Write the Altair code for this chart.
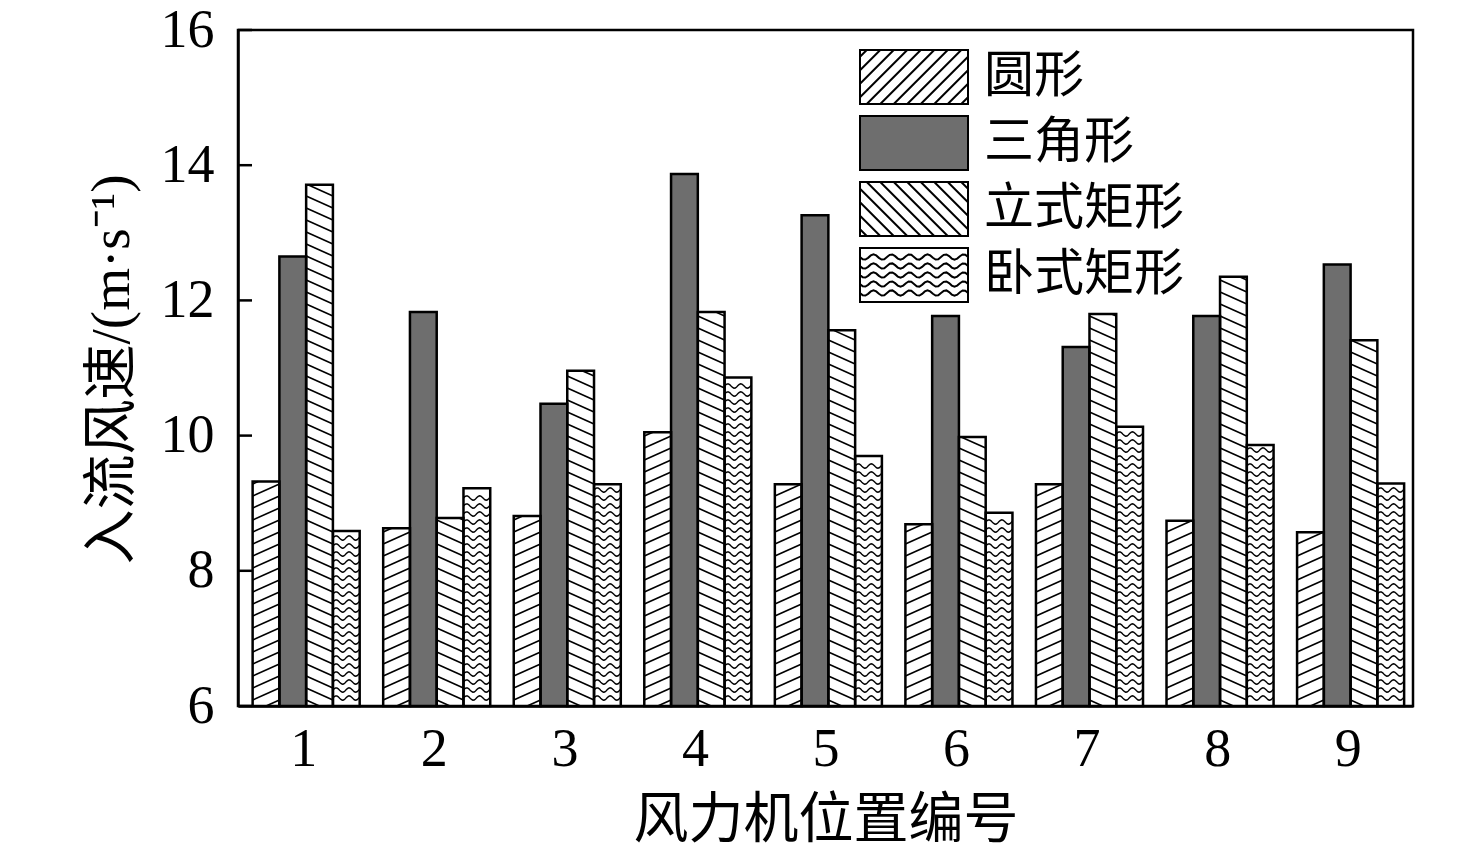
import altair as alt
import pandas as pd
import math

# ---------------- data ----------------
groups = [1, 2, 3, 4, 5, 6, 7, 8, 9]
series = ["圆形", "三角形", "立式矩形", "卧式矩形"]
circle = [9.32, 8.63, 8.81, 10.05, 9.28, 8.69, 9.28, 8.74, 8.57]
triangle = [12.65, 11.83, 10.47, 13.87, 13.26, 11.77, 11.31, 11.77, 12.53]
vertical = [13.71, 8.78, 10.96, 11.83, 11.56, 9.98, 11.80, 12.35, 11.41]
horizontal = [8.59, 9.22, 9.28, 10.86, 9.70, 8.86, 10.13, 9.86, 9.29]
y_ticks = [6, 8, 10, 12, 14, 16]
fills = ["white", "#6e6e6e", "white", "white"]

rows = []
for k, (name, vals) in enumerate(zip(series, [circle, triangle, vertical, horizontal])):
    for g, v in zip(groups, vals):
        rows.append({"group": g, "series": name, "k": k, "value": v})
df = pd.DataFrame(rows)

# ---------------- layout / style ----------------
W, H = 1175, 676
PX = W / 9.0
PY = H / 10.0
BW = 0.205
SHIFT = 0.022
WPX = BW * PX

FONT_NUM = "Liberation Serif"
FONT_CJK = "Liberation Serif, Noto Sans CJK SC"

xscale = alt.Scale(domain=[0.5, 9.5], nice=False, zero=False)
yscale = alt.Scale(domain=[6, 16], nice=False, zero=False)
fill_scale = alt.Scale(domain=series, range=fills)

XL = f"datum.group - {2*BW} + {SHIFT} + {BW} * datum.k"
HPX = f"(datum.value - 6) * {PY}"

x_axis = alt.Axis(values=groups, format="d", title="风力机位置编号",
                  labelFont=FONT_NUM, labelFontSize=54, labelPadding=16,
                  labelFlush=False, labelColor="black", ticks=False, tickSize=0,
                  domainColor="black", domainWidth=2.5, grid=False,
                  titleFont=FONT_CJK, titleFontSize=55, titleFontWeight="normal",
                  titleColor="black", titleBaseline="alphabetic", titleY=130)
y_axis = alt.Axis(values=y_ticks, format="d", title="入流风速/(m·s⁻¹)",
                  labelFont=FONT_NUM, labelFontSize=54, labelPadding=24,
                  labelColor="black", ticks=False, tickSize=0,
                  domainColor="black", domainWidth=2.5, grid=False,
                  titleFont=FONT_CJK, titleFontSize=55, titleFontWeight="normal",
                  titleColor="black", titleAngle=270, titleBaseline="alphabetic",
                  titleAlign="center", titleX=-110, titleY=339)


def X(field):
    return alt.X(field, scale=xscale, axis=x_axis)


def Y(field):
    return alt.Y(field, scale=yscale, axis=y_axis)


base = alt.Chart(df)

bars = base.transform_calculate(
    x0=XL
).transform_calculate(
    x1=f"datum.x0 + {BW}"
).mark_rect(strokeWidth=0).encode(
    x=X("x0:Q"),
    x2="x1:Q",
    y=Y("value:Q"),
    y2=alt.datum(6),
    fill=alt.condition(f"datum.series == '{series[1]}'", alt.value(fills[1]), alt.value(fills[0])),
)

outline = base.transform_calculate(
    x0=XL
).transform_calculate(
    x1=f"datum.x0 + {BW}"
).mark_rect(fillOpacity=0, stroke="black", strokeWidth=2.5).encode(
    x=X("x0:Q"),
    x2="x1:Q",
    y=Y("value:Q"),
    y2=alt.datum(6),
)

# diagonal hatch ("/" for 圆形, "\" for 立式矩形)
M = 0.45
S = 12.0
MW = M * WPX


def diag_layer(name, rising):
    ch = base.transform_filter(f"datum.series == '{name}'").transform_calculate(
        xl=XL
    ).transform_calculate(
        hpx=HPX
    ).transform_calculate(
        idx=f"sequence(0, ceil((datum.hpx + {MW}) / {S}))"
    ).transform_flatten(["idx"])
    if rising:
        ch = ch.transform_calculate(
            c=f"-{MW} + (datum.idx + 0.5) * {S}"
        ).transform_calculate(
            ua=f"max(0, -datum.c / {M})"
        ).transform_calculate(
            ub=f"min({WPX}, (datum.hpx - datum.c) / {M})"
        ).transform_calculate(
            va=f"{M} * datum.ua + datum.c"
        ).transform_calculate(
            vb=f"{M} * datum.ub + datum.c"
        )
    else:
        ch = ch.transform_calculate(
            c=f"(datum.idx + 0.5) * {S}"
        ).transform_calculate(
            ua=f"max(0, (datum.c - datum.hpx) / {M})"
        ).transform_calculate(
            ub=f"min({WPX}, datum.c / {M})"
        ).transform_calculate(
            va=f"datum.c - {M} * datum.ua"
        ).transform_calculate(
            vb=f"datum.c - {M} * datum.ub"
        )
    ch = ch.transform_filter("datum.ub > datum.ua").transform_calculate(
        hx=f"datum.xl + datum.ua / {PX}"
    ).transform_calculate(
        hx2=f"datum.xl + datum.ub / {PX}"
    ).transform_calculate(
        hy=f"6 + datum.va / {PY}"
    ).transform_calculate(
        hy2=f"6 + datum.vb / {PY}"
    )
    return ch.mark_rule(color="black", strokeWidth=1.6).encode(
        x=X("hx:Q"),
        x2="hx2:Q",
        y=Y("hy:Q"),
        y2="hy2:Q",
    )


hatch_circle = diag_layer(series[0], True)
hatch_vert = diag_layer(series[2], False)

# wavy hatch for 卧式矩形
S2 = 8.0
A = 2.2
P = 13.0
NP = 20
wavy = base.transform_filter(f"datum.series == '{series[3]}'").transform_calculate(
    xl=XL
).transform_calculate(
    hpx=HPX
).transform_calculate(
    j=f"sequence(1, floor((datum.hpx - 2 - {A}) / {S2}) + 1)"
).transform_flatten(["j"]).transform_calculate(
    p=f"sequence(0, {NP + 1})"
).transform_flatten(["p"]).transform_calculate(
    u=f"datum.p * {WPX / NP}"
).transform_calculate(
    v=f"datum.j * {S2} + {A} * sin(2 * PI * datum.u / {P})"
).transform_calculate(
    wx=f"datum.xl + datum.u / {PX}"
).transform_calculate(
    wy=f"6 + datum.v / {PY}"
).transform_calculate(
    rid="datum.group * 1000 + datum.j"
).mark_line(color="black", strokeWidth=1.4).encode(
    x=X("wx:Q"),
    y=Y("wy:Q"),
    detail="rid:N",
    order="p:Q",
)

# inward y ticks
tick_df = pd.DataFrame({"t": y_ticks})
yticks = alt.Chart(tick_df).mark_rule(color="black", strokeWidth=2.5).encode(
    y=Y("t:Q"),
    x=alt.value(0),
    x2=alt.value(14),
)


# ---------------- legend symbols (custom paths) ----------------
def fmt(v):
    return f"{v:.3f}"


RECT = "M-2,-1L2,-1L2,1L-2,1Z"


def legend_diag(rising):
    parts = [RECT]
    step = 0.5
    n = int(round(6 / step))
    for i in range(n):
        c = -3 + (i + 0.5) * step
        xa, xb = max(-2.0, c - 1.0), min(2.0, c + 1.0)
        if xb <= xa:
            continue
        if rising:
            ya, yb = c - xa, c - xb
        else:
            ya, yb = xa - c, xb - c
        parts.append(f"M{fmt(xa)},{fmt(ya)}L{fmt(xb)},{fmt(yb)}")
    return "".join(parts)


def legend_wavy():
    parts = [RECT]
    for j in range(1, 6):
        y0 = -1 + j / 3.0
        pts = []
        nstep = 40
        for q in range(nstep + 1):
            x = -2 + 4.0 * q / nstep
            y = y0 + 0.1 * math.sin(2 * math.pi * (x + 2) / 0.667)
            pts.append(f"{fmt(x)},{fmt(y)}")
        parts.append("M" + "L".join(pts))
    return "".join(parts)


shapes = [legend_diag(True), RECT, legend_diag(False), legend_wavy()]

leg = alt.Legend(orient="none", legendX=648, legendY=19, title=None,
                 symbolSize=2916, symbolStrokeWidth=2, symbolStrokeColor="black",
                 labelFont=FONT_CJK, labelFontSize=50, labelColor="black",
                 labelOffset=42, rowPadding=4, padding=0, symbolOffset=0,
                 labelLimit=400)

legend_layer = base.transform_filter("datum.value < 0").mark_point(
    filled=True, opacity=1, strokeWidth=2
).encode(
    x=X("group:Q"),
    y=Y("value:Q"),
    fill=alt.Fill("series:N", scale=fill_scale, legend=leg),
    stroke=alt.Stroke("series:N", scale=alt.Scale(domain=series, range=["black"] * 4), legend=leg),
    shape=alt.Shape("series:N", scale=alt.Scale(domain=series, range=shapes), legend=leg),
)

chart = alt.layer(bars, hatch_circle, hatch_vert, wavy, outline, yticks, legend_layer).properties(
    width=W,
    height=H,
    padding={"left": 230, "top": 22, "right": 40, "bottom": 142},
    autosize=alt.AutoSizeParams(type="none"),
    background="white",
).configure_view(stroke="black", strokeWidth=2.5)

chart.save("out.html", embed_options={"renderer": "svg", "actions": False})
